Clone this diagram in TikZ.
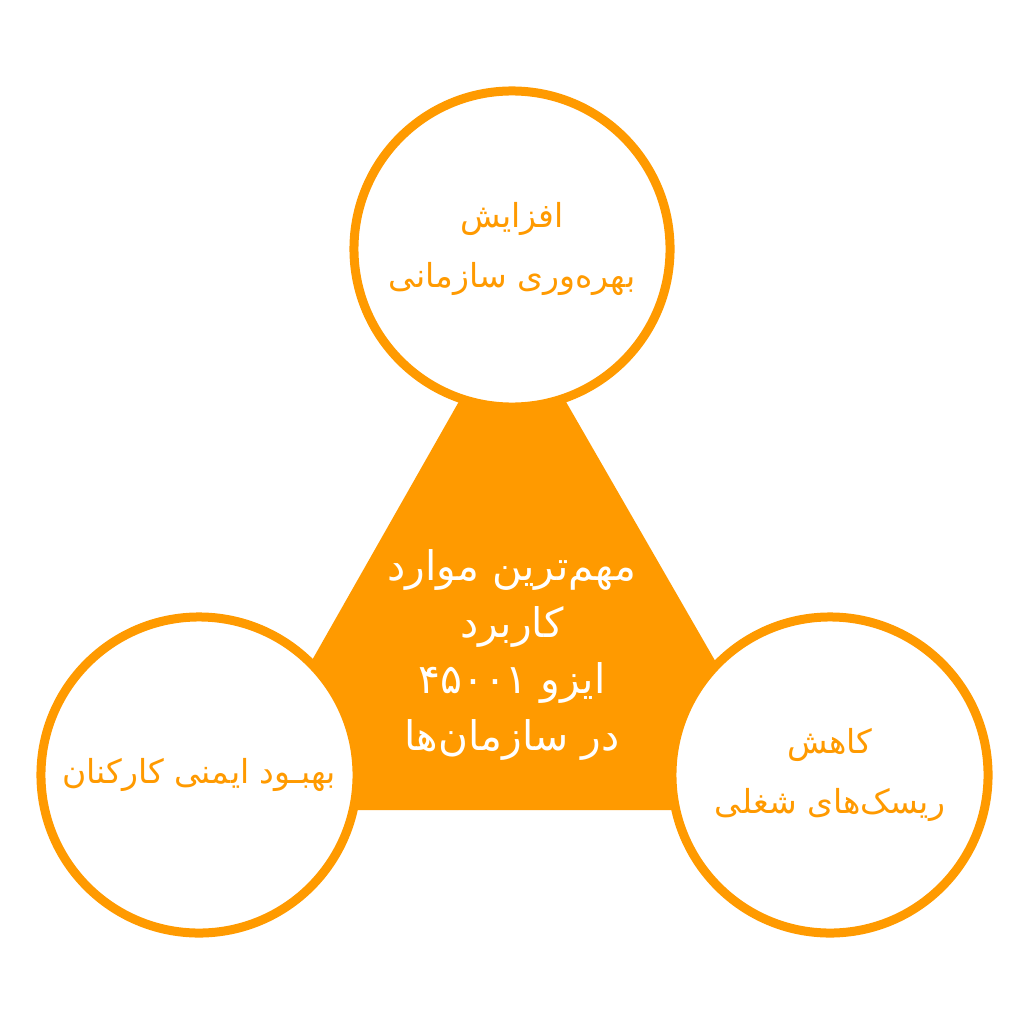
\documentclass[tikz,border=0pt]{standalone}
\usepackage{fontspec}
\newfontfamily\arabicfont[Script=Arabic]{DejaVu Sans}
\TeXXeTstate=1
\usetikzlibrary{positioning}
\definecolor{isoorange}{HTML}{FF9A00}
\newcommand{\rl}[1]{\beginR #1\endR}

\begin{document}
\begin{tikzpicture}[x=0.025cm,y=-0.025cm]
  	\tikzstyle{goal}=[circle, minimum size=7.9cm, line width=6.4pt, draw=isoorange, fill=white, text=isoorange, align=center, font=\arabicfont\fontsize{23.5}{42.5}\selectfont]
  	\tikzstyle{core}=[align=center, text=white, font=\arabicfont\fontsize{29}{40.5}\selectfont]
  	\useasboundingbox (0,0) rectangle (1024,1024);
  	% triangle behind the circles
  	\fill[isoorange] (512,308) -- (227,810) -- (801,810) -- cycle;
  	\node[core] (usage) at (512,655) {\rl{مهم‌ترین موارد}\\\rl{کاربرد}\\\rl{ایزو ۴۵۰۰۱}\\\rl{در سازمان‌ها}};
  	\node[goal] (productivity) at (512,249) {\rl{افزایش}\\\rl{بهره‌وری سازمانی}};
  	\node[goal] (safety) at (199,775) {\rl{بهبـود ایمنی کارکنان}};
  	\node[goal] (risk) at (830,775) {\rl{کاهش}\\\rl{ریسک‌های شغلی}};
\end{tikzpicture}
\end{document}
